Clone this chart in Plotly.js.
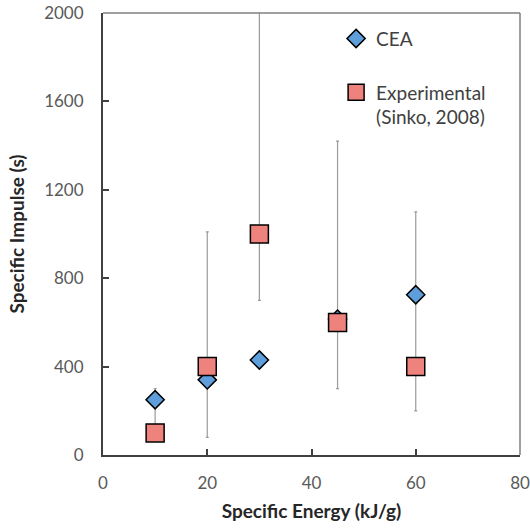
<!DOCTYPE html>
<html>
<head>
<meta charset="utf-8">
<script src="https://cdn.plot.ly/plotly-3.0.1.min.js"></script>
<style>html,body{margin:0;padding:0;background:#fff;}#chart{width:530px;height:529px;}</style>
</head>
<body>
<div id="chart"></div>
<script>
// Data
const ceaEnergy = [10, 20, 30, 45, 60];
const ceaImpulse = [250, 340, 430, 615, 725];
const expEnergy = [10, 20, 30, 45, 60];
const expImpulse = [100, 400, 1000, 600, 400];
const expUpper = [300, 1010, 2300, 1420, 1100];
const expLower = [100, 80, 700, 300, 200];
const xTicks = [0, 20, 40, 60, 80];
const yTicks = [0, 400, 800, 1200, 1600, 2000];

const errPlus = expImpulse.map((v, i) => expUpper[i] - v);
const errMinus = expImpulse.map((v, i) => v - expLower[i]);

const traces = [
  {
    x: expEnergy, y: expImpulse, type: 'scatter', mode: 'markers',
    marker: {size: 1, color: 'rgba(0,0,0,0)'},
    error_y: {type: 'data', symmetric: false, array: errPlus, arrayminus: errMinus,
              color: '#9a9a9a', thickness: 1.2, width: 1.5},
    showlegend: false, hoverinfo: 'skip'
  },
  {
    x: ceaEnergy, y: ceaImpulse, type: 'scatter', mode: 'markers', name: 'CEA',
    legendgroup: 'a',
    marker: {symbol: 'diamond', size: 14, color: '#5E9EDB', line: {color: '#000', width: 1.5}}
  },
  {
    x: expEnergy, y: expImpulse, type: 'scatter', mode: 'markers',
    name: 'Experimental<br>(Sinko, 2008)', legendgroup: 'b',
    marker: {symbol: 'square', size: 18, color: '#EE827C', line: {color: '#000', width: 1.5}}
  }
];

const font = "Lato, 'Open Sans', sans-serif";
const layout = {
  width: 530, height: 529,
  margin: {l: 103, r: 10, t: 13, b: 74},
  paper_bgcolor: '#fff', plot_bgcolor: '#fff',
  font: {family: font, color: '#595959', size: 17},
  showlegend: true,
  legend: {x: 0.559, y: 0.985, xanchor: 'left', yanchor: 'top',
           bgcolor: 'rgba(0,0,0,0)', font: {family: font, size: 19, color: '#404040'},
           traceorder: 'grouped', tracegroupgap: 26, valign: 'top', itemwidth: 30},
  xaxis: {
    range: [0, 80], tickvals: xTicks, ticktext: xTicks.map(String),
    showgrid: false, zeroline: false, showline: true, linecolor: '#404040', linewidth: 2,
    ticks: 'inside', ticklen: 6, tickwidth: 2, tickcolor: '#404040',
    ticklabelstandoff: 12,
    title: {text: '<b>Specific Energy (kJ/g)</b>', font: {family: font, size: 19, color: '#262626'}, standoff: 12}
  },
  yaxis: {
    range: [0, 2000], tickvals: yTicks, ticktext: yTicks.map(String),
    showgrid: false, zeroline: false, showline: true, linecolor: '#404040', linewidth: 2,
    ticks: 'inside', ticklen: 6, tickwidth: 2, tickcolor: '#404040',
    ticklabelstandoff: 14,
    title: {text: '<b>Specific Impulse (s)</b>', font: {family: font, size: 19, color: '#262626'}, standoff: 14}
  },
  shapes: [
    {type: 'line', xref: 'paper', yref: 'paper', x0: 0, x1: 1, y0: 1, y1: 1, line: {color: '#7f7f7f', width: 1.5}},
    {type: 'line', xref: 'paper', yref: 'paper', x0: 1, x1: 1, y0: 0, y1: 1, line: {color: '#7f7f7f', width: 1.5}}
  ]
};

Plotly.newPlot('chart', traces, layout, {displayModeBar: false, staticPlot: true});
</script>
</body>
</html>
